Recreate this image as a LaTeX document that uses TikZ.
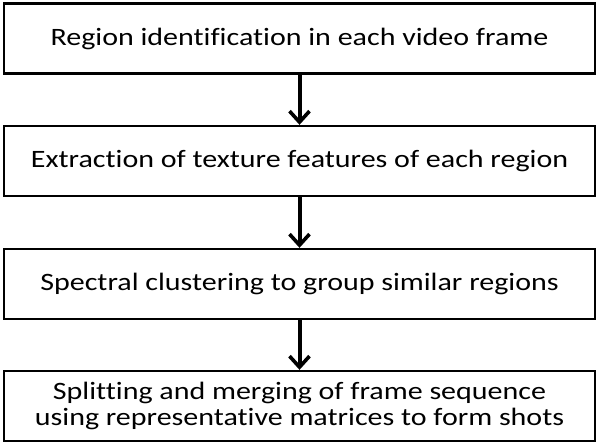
\documentclass[tikz,border=0pt]{standalone}
\usepackage{fontspec}
\setmainfont[FakeStretch=1.2, Ligatures=NoCommon]{Carlito}
\usetikzlibrary{arrows.meta}

\begin{document}
\begin{tikzpicture}[
    x=1pt, y=-1pt,
    stagebox/.style={rectangle, draw, line width=2.4pt, minimum width=591pt, minimum height=70pt, align=center, font=\fontsize{25}{25.5}\selectfont, inner sep=0pt},
    arr/.style={-{Straight Barb[length=11pt, width=20pt, line width=3.6pt]}, line width=4pt}
]
    \useasboundingbox (0,0) rectangle (598,442);
    % Four processing stages, top to bottom
    \node[stagebox] (ident) at (299.5, 38.5) {Region identification in each video frame};
    \node[stagebox] (texture) at (299.5, 161) {Extraction of texture features of each region};
    \node[stagebox] (cluster) at (299.5, 284) {Spectral clustering to group similar regions};
    \node[stagebox] (split) at (299.5, 406) {Splitting and merging of frame sequence\\using representative matrices to form shots};

    % Arrows
    \draw[arr] (ident) -- (texture);
    \draw[arr] (texture) -- (cluster);
    \draw[arr] (cluster) -- (split);
\end{tikzpicture}
\end{document}
